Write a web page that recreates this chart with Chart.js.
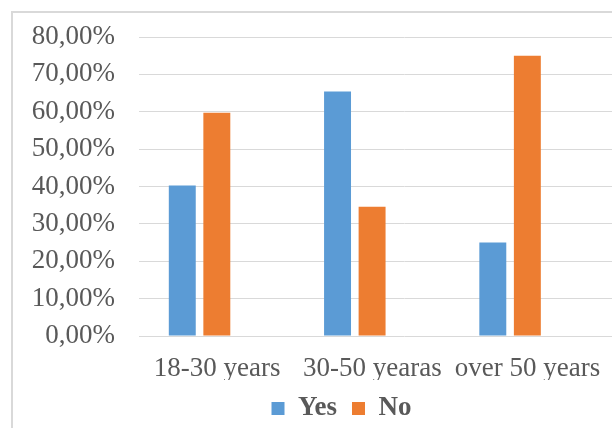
<!DOCTYPE html>
<html>
<head>
<meta charset="utf-8">
<script src="https://cdn.jsdelivr.net/npm/chart.js@4"></script>
<style>
  html, body { margin: 0; padding: 0; width: 612px; height: 428px; overflow: hidden; background: #fff; }
  #frame {
    position: absolute; left: 11px; top: 11px;
    border-left: 2px solid #d9d9d9; border-top: 2px solid #d9d9d9;
    width: 657px; height: 440px;
  }
  #myChart { display: block; }
</style>
</head>
<body>
<div id="frame"><canvas id="myChart" width="657" height="440"></canvas></div>
<script>
// values
const categories = ['18-30 years', '30-50 yearas', 'over 50 years'];
const yesValues = [40.3, 65.4, 25.0];
const noValues = [59.7, 34.6, 75.0];
const yTicks = [0, 10, 20, 30, 40, 50, 60, 70, 80];

const FONT = "'Liberation Serif', 'Times New Roman', serif";
const GREY = '#595959';

const toPoints = vals => vals.map((v, i) => ({x: i, y: v}));

const data = {
  datasets: [
    {label: 'Yes', data: toPoints(yesValues), backgroundColor: '#5b9bd5', borderWidth: 0},
    {label: 'No', data: toPoints(noValues), backgroundColor: '#ed7d31', borderWidth: 0}
  ]
};

const config = {
  type: 'bar',
  data: data,
  options: {
    responsive: false,
    animation: false,
    categoryPercentage: 0.445,
    barPercentage: 0.78,
    layout: {padding: {top: 24, left: 0, right: 0, bottom: 21}},
    scales: {
      x: {
        type: 'linear',
        offset: false,
        min: -0.39,
        max: 3.03,
        grid: {display: false, drawTicks: false},
        border: {display: false},
        afterBuildTicks: s => { s.ticks = categories.map((c, i) => ({value: i})); },
        afterFit: s => { s.height = 44; },
        ticks: {
          autoSkip: false, maxRotation: 0, padding: 17, labelOffset: 17.5,
          color: GREY, font: {family: FONT, size: 27},
          callback: v => categories[v]
        }
      },
      y: {
        min: 0, max: 80,
        grid: {color: '#d9d9d9', lineWidth: 1, drawTicks: false},
        border: {display: false},
        afterBuildTicks: s => { s.ticks = yTicks.map(v => ({value: v})); },
        afterFit: s => { s.width = 126; s.paddingTop = 0; s.paddingBottom = 0; },
        ticks: {
          autoSkip: false,
          padding: 24, color: GREY, font: {family: FONT, size: 27},
          callback: v => v.toFixed(2).replace('.', ',') + '%'
        }
      }
    },
    plugins: {
      legend: {
        position: 'bottom',
        labels: {
          boxWidth: 13, boxHeight: 13, padding: 15,
          color: GREY, font: {family: FONT, size: 27, weight: 'bold'}
        }
      },
      tooltip: {enabled: false},
      title: {display: false}
    }
  }
};

const myChart = new Chart(document.getElementById('myChart'), config);
</script>
</body>
</html>
